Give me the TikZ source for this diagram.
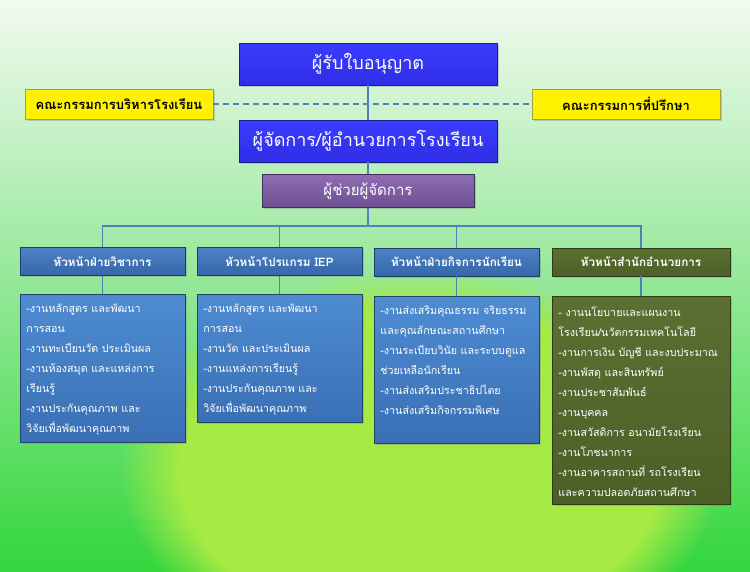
\documentclass[tikz,border=0pt]{standalone}
\usepackage{fontspec}
\setmainfont{Loma}[Script=Thai]
\usetikzlibrary{shadows,fadings}

\definecolor{bgtop}{HTML}{F2FAF0}
\definecolor{bgmid}{HTML}{C0EDA4}
\definecolor{bgbot}{HTML}{34D63E}
\definecolor{bgglow}{HTML}{A6EA44}
\definecolor{linkblue}{HTML}{4F81BD}
\definecolor{royal}{HTML}{3C3CFF}
\definecolor{royaldark}{HTML}{2E2EE6}
\definecolor{headtop}{HTML}{4C82C8}
\definecolor{headbot}{HTML}{3566A8}
\definecolor{worktop}{HTML}{4E8CD2}
\definecolor{workbot}{HTML}{3A6FB4}
\definecolor{olivetop}{HTML}{5C7033}
\definecolor{olivebot}{HTML}{4C5F26}
\definecolor{plumtop}{HTML}{8E6DB3}
\definecolor{plumbot}{HTML}{6E5092}

\tikzset{
  box/.style={draw=#1, line width=0.8pt, drop shadow={shadow xshift=1.5pt, shadow yshift=-1.5pt, opacity=0.35}},
  topbox/.style={box=royaldark!60!black, top color=royal, bottom color=royaldark, text=white,
    minimum width=258pt, minimum height=42pt, font=\fontsize{18}{20}\selectfont},
  boardbox/.style={box=yellow!60!black, fill=yellow, text=black,
    minimum width=188pt, minimum height=30pt, font=\bfseries\fontsize{13}{14}\selectfont},
  asstbox/.style={box=plumbot!60!black, top color=plumtop, bottom color=plumbot, text=white,
    minimum width=212pt, minimum height=33pt, font=\fontsize{15}{16}\selectfont},
  headbox/.style={box=headbot!60!black, top color=headtop, bottom color=headbot, text=white,
    minimum width=165pt, minimum height=28pt, font=\bfseries\fontsize{11.7}{13}\selectfont},
  workbox/.style={box=workbot!60!black, top color=worktop, bottom color=workbot, text=white,
    anchor=north west, inner xsep=6pt, inner ysep=10pt, font=\fontsize{10.7}{20}\selectfont},
  link/.style={draw=linkblue, line width=1.3pt},
  dashline/.style={draw=linkblue, line width=1.3pt, dash pattern=on 6pt off 4pt}
}
\newcommand{\jobs}[3]{\parbox[t][#1][t]{#2}{\raggedright #3}}

\begin{document}
\begin{tikzpicture}[x=1pt,y=-1pt]
\useasboundingbox (0,0) rectangle (750,571);
\shade[top color=bgtop, middle color=bgmid, bottom color=bgbot] (0,0) rectangle (750,571);
\fill[bgglow, path fading=circle with fuzzy edge 20 percent] (420,470) ellipse (300 and 200);

\node[topbox] (lic) at (368,64) {ผู้รับใบอนุญาต};
\node[topbox] (mgr) at (368,141) {ผู้จัดการ/ผู้อำนวยการโรงเรียน};
\node[boardbox] (board) at (119,104) {คณะกรรมการบริหารโรงเรียน};
\node[boardbox] (advis) at (626,104) {คณะกรรมการที่ปรึกษา};
\node[asstbox] (asst) at (368,191) {ผู้ช่วยผู้จัดการ};

\node[headbox] (acad) at (102.5,261.5) {หัวหน้าฝ่ายวิชาการ};
\node[headbox] (iep) at (279.5,261.5) {หัวหน้าโปรแกรม IEP};
\node[headbox] (stud) at (456.5,262) {หัวหน้าฝ่ายกิจการนักเรียน};
\node[headbox, top color=olivetop, bottom color=olivebot, draw=olivebot!60!black,
  minimum width=178pt] (admin) at (641,262) {หัวหน้าสำนักอำนวยการ};

\node[workbox] (acadw) at (20,294) {\jobs{128pt}{153pt}{%
-งานหลักสูตร และพัฒนา\\
การสอน\\
-งานทะเบียนวัด ประเมินผล\\
-งานห้องสมุด และแหล่งการ\\
เรียนรู้\\
-งานประกันคุณภาพ และ\\
วิจัยเพื่อพัฒนาคุณภาพ}};
\node[workbox] (iepw) at (197,294) {\jobs{108pt}{153pt}{%
-งานหลักสูตร และพัฒนา\\
การสอน\\
-งานวัด และประเมินผล\\
-งานแหล่งการเรียนรู้\\
-งานประกันคุณภาพ และ\\
วิจัยเพื่อพัฒนาคุณภาพ}};
\node[workbox] (studw) at (374,296) {\jobs{127pt}{153pt}{%
-งานส่งเสริมคุณธรรม จริยธรรม\\
และคุณลักษณะสถานศึกษา\\
-งานระเบียบวินัย และระบบดูแล\\
ช่วยเหลือนักเรียน\\
-งานส่งเสริมประชาธิปไตย\\
-งานส่งเสริมกิจกรรมพิเศษ}};
\node[workbox, top color=olivetop, bottom color=olivebot, draw=olivebot!60!black]
  (adminw) at (552,296) {\jobs{188pt}{166pt}{%
- งานนโยบายและแผนงาน\\
โรงเรียน/นวัตกรรมเทคโนโลยี\\
-งานการเงิน บัญชี และงบประมาณ\\
-งานพัสดุ และสินทรัพย์\\
-งานประชาสัมพันธ์\\
-งานบุคคล\\
-งานสวัสดิการ อนามัยโรงเรียน\\
-งานโภชนาการ\\
-งานอาคารสถานที่ รถโรงเรียน\\
และความปลอดภัยสถานศึกษา}};

\coordinate (bar) at (368,226);
\draw[dashline] (board) -- (advis);
\draw[link] (lic) -- (mgr);
\draw[link] (mgr) -- (asst);
\draw[link] (asst) -- (bar);
\draw[link] (acad.north) |- (bar) -| (admin.north);
\foreach \h in {iep,stud} {
\draw[link] (\h.north) -- (\h.north |- bar);}
\foreach \h/\w in {acad/acadw,iep/iepw,stud/studw,admin/adminw} {
\draw[link] (\h) -- (\w.north -| \h);}
\end{tikzpicture}
\end{document}
